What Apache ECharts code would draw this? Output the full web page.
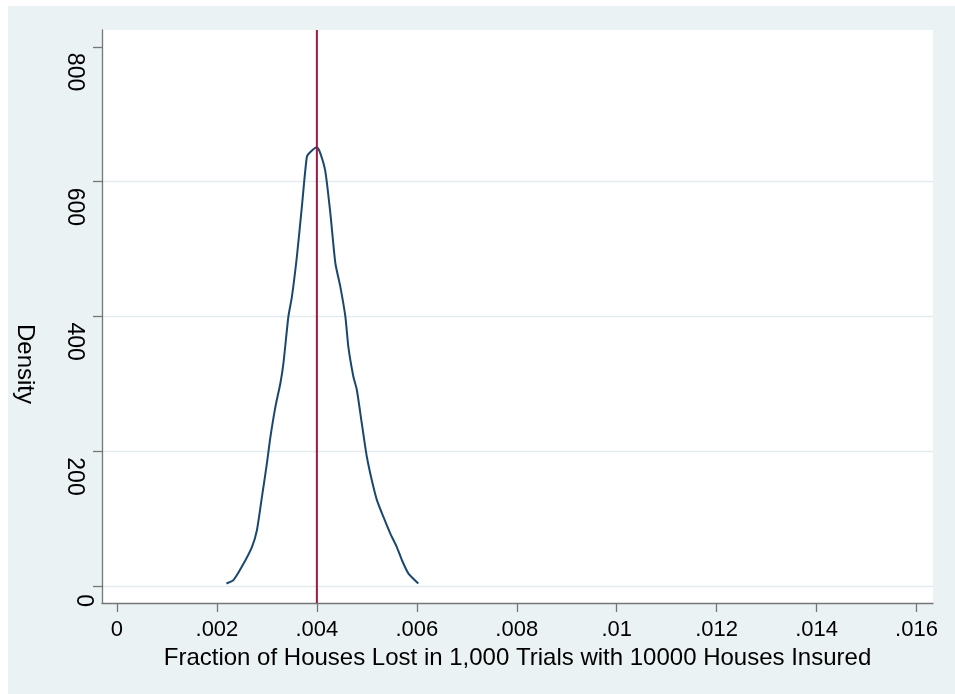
<!DOCTYPE html>
<html>
<head>
<meta charset="utf-8">
<script src="https://cdn.jsdelivr.net/npm/echarts@6/dist/echarts.min.js"></script>
<style>
  html, body { margin: 0; padding: 0; background: #ffffff; }
  #chart { position: absolute; left: 8px; top: 6px; width: 947px; height: 688px; }
</style>
</head>
<body>
<div id="chart"></div>
<script>
// ---- data ----
const fractionLost = [0.00219, 0.00233, 0.0025, 0.0027, 0.0028, 0.0029, 0.0030, 0.00307, 0.00317, 0.00327,
  0.00333, 0.00343, 0.0035, 0.0036, 0.0037, 0.0038, 0.00387, 0.0040, 0.00407, 0.00417,
  0.00427, 0.00437, 0.00447, 0.00457, 0.00463, 0.00473, 0.0048, 0.0049, 0.0050, 0.0051,
  0.0052, 0.00533, 0.00547, 0.0056, 0.0057, 0.00583, 0.00603];
const density = [4, 9, 29, 58, 83, 132, 182, 221, 266, 301,
  330, 400, 429, 489, 563, 637, 644, 651, 642, 615,
  553, 479, 444, 400, 355, 311, 291, 241, 192, 157,
  128, 103, 78, 58, 39, 19, 4];
const meanFraction = 0.004;
const xTicks = [0, 0.002, 0.004, 0.006, 0.008, 0.010, 0.012, 0.014, 0.016];
const xTickLabels = ['0', '.002', '.004', '.006', '.008', '.01', '.012', '.014', '.016'];
const yTicks = [0, 200, 400, 600, 800];
const yTickLabels = ['0', '200', '400', '600', '800'];
const xTitle = 'Fraction of Houses Lost in 1,000 Trials with 10000 Houses Insured';
const yTitle = 'Density';

const X_MIN = -0.0003, X_MAX = 0.01633;
const Y_MIN = -25, Y_MAX = 825;

const FONT = "'Liberation Sans', Arial, Helvetica, sans-serif";
const gridColor = '#e3ebee';
const axisColor = '#767676';

const chart = echarts.init(document.getElementById('chart'), null, { renderer: 'canvas' });

function labelFor(ticks, labels, v) {
  for (let i = 0; i < ticks.length; i++) {
    if (Math.abs(ticks[i] - v) < 1e-9) return labels[i];
  }
  return '';
}

const option = {
  backgroundColor: '#eaf2f3',
  animation: false,
  grid: {
    left: 94, top: 24, right: 22, bottom: 91,
    show: true, backgroundColor: '#ffffff', borderWidth: 0,
    containLabel: false
  },
  xAxis: {
    type: 'value',
    min: X_MIN, max: X_MAX,
    name: xTitle,
    nameLocation: 'middle',
    nameGap: 42,
    nameTextStyle: { fontFamily: FONT, fontSize: 24, color: '#000' },
    axisLine: { show: true, onZero: false, lineStyle: { color: axisColor, width: 1.3 } },
    axisTick: { show: true, length: 9, customValues: xTicks, lineStyle: { color: axisColor, width: 1.3 } },
    axisLabel: {
      customValues: xTicks,
      margin: 16,
      fontFamily: FONT, fontSize: 22, color: '#000',
      formatter: v => labelFor(xTicks, xTickLabels, v)
    },
    splitLine: { show: false }
  },
  yAxis: {
    type: 'value',
    min: Y_MIN, max: Y_MAX,
    axisLine: { show: true, onZero: false, lineStyle: { color: axisColor, width: 1.3 } },
    axisTick: { show: true, length: 9, customValues: yTicks, lineStyle: { color: axisColor, width: 1.3 } },
    axisLabel: {
      customValues: yTicks,
      rotate: -90,
      margin: 7,
      align: 'left',
      verticalAlign: 'top',
      fontFamily: FONT, fontSize: 23, color: '#000',
      formatter: v => {
        const s = labelFor(yTicks, yTickLabels, v);
        return v === 0 ? '{z|' + s + '}' : '{n|' + s + '}';
      },
      rich: {
        z: { fontFamily: FONT, fontSize: 23, color: '#000', padding: [0, 0, 0, 8] },
        n: { fontFamily: FONT, fontSize: 23, color: '#000', padding: [9, 0, 0, 6] }
      }
    },
    splitLine: {
      show: true,
      lineStyle: { color: [gridColor, gridColor, gridColor, gridColor, 'rgba(0,0,0,0)'], width: 1.3 }
    }
  },
  graphic: [{
    type: 'text',
    x: 17, y: 358,
    rotation: -Math.PI / 2,
    style: {
      text: yTitle,
      fontFamily: FONT, fontSize: 24, fill: '#000',
      textAlign: 'center', textVerticalAlign: 'middle'
    }
  }],
  series: [
    {
      type: 'line',
      name: 'Density',
      data: fractionLost.map((x, i) => [x, density[i]]),
      showSymbol: false,
      smooth: 0.2,
      lineStyle: { color: '#1a476f', width: 2 },
      z: 3
    },
    {
      type: 'line',
      name: 'Mean',
      data: [[meanFraction, Y_MIN], [meanFraction, Y_MAX]],
      showSymbol: false,
      silent: true,
      lineStyle: { color: '#a3173b', width: 2 },
      z: 4
    }
  ]
};

chart.setOption(option);
</script>
</body>
</html>
